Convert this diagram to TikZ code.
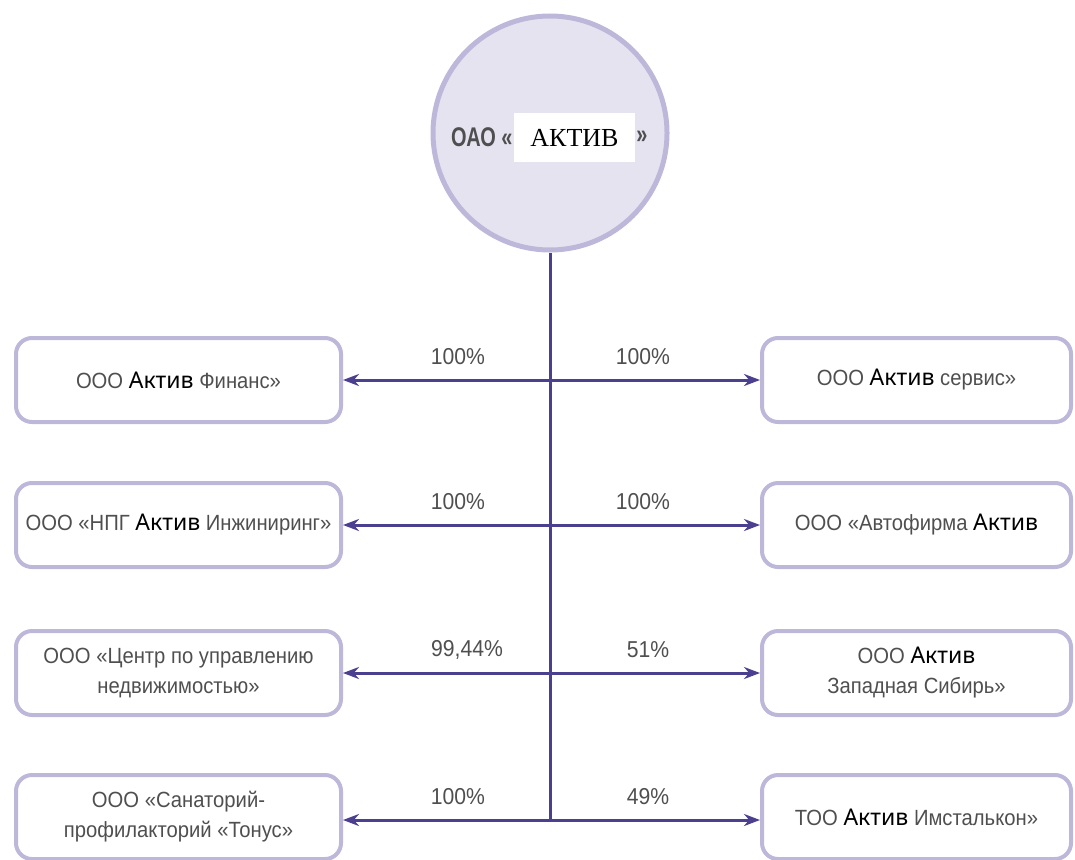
\documentclass[tikz,border=0pt]{standalone}
\usepackage{fontspec}
\usepackage{xcolor}
\usetikzlibrary{arrows.meta}
\setmainfont{Liberation Sans}[FakeStretch=0.92]
\newfontfamily\aktfont{Noto Sans}
\newfontfamily\serifcap{Liberation Serif}
\newfontfamily\hubfont{Liberation Sans}[FakeStretch=0.74]
\definecolor{frame}{HTML}{BDB7DA}
\definecolor{hubfill}{HTML}{E6E3F0}
\definecolor{linkcol}{HTML}{4B3F8F}
\definecolor{txt}{HTML}{4F4F4F}
\newcommand{\akt}{{\aktfont\color{black}\fontsize{23}{30}\selectfont Актив}}
\tikzset{
  firm/.style={draw=frame, line width=4pt, rounded corners=16pt, minimum height=84pt,
    inner sep=0pt, align=center, text=txt, font=\fontsize{22}{30}\selectfont},
  firmleft/.style={firm, minimum width=325pt},
  firmright/.style={firm, minimum width=309pt},
  share/.style={draw=none, text=txt, font=\fontsize{23}{26}\selectfont},
  link/.style={draw=linkcol, line width=3pt},
  linkarrow/.style={link, -{Stealth[length=16pt,width=12pt]}}
}
\begin{document}
\begin{tikzpicture}[x=1pt,y=-1pt]
\useasboundingbox (0,0) rectangle (1075,859);

\node[circle, draw=frame, fill=hubfill, line width=5pt, minimum size=234pt] (oao) at (550,133) {};
\node[draw=none, fill=white, inner sep=0pt, minimum width=121pt, minimum height=49pt,
  font=\serifcap\fontsize{26}{26}\selectfont] (aktiv) at (574.5,137.5) {АКТИВ};
\node[draw=none, anchor=east, inner sep=1pt, text=txt,
  font=\hubfont\bfseries\fontsize{27}{27}\selectfont] at (aktiv.west) {ОАО «};
\node[draw=none, anchor=west, inner sep=1pt, text=txt,
  font=\hubfont\bfseries\fontsize{27}{27}\selectfont] at (aktiv.east) {»};

\node[firmleft] (fin) at (178.5,380) {ООО \akt\ Финанс»};
\node[firmleft] (npg) at (178.5,525) {ООО «НПГ \akt\ Инжиниринг»};
\node[firmleft] (centr) at (178.5,673) {ООО «Центр по управлению\\недвижимостью»};
\node[firmleft] (tonus) at (178.5,817) {ООО «Санаторий-\\профилакторий «Тонус»};

\node[firmright] (serv) at (916.5,380) {ООО \akt\ сервис»};
\node[firmright] (avto) at (916.5,525) {ООО «Автофирма \akt};
\node[firmright] (sib) at (916.5,673) {ООО \akt\\Западная Сибирь»};
\node[firmright] (imst) at (916.5,817) {ТОО \akt\ Имсталькон»};

\coordinate (h1) at (550,380);
\coordinate (h2) at (550,525);
\coordinate (h3) at (550,673);
\coordinate (h4) at (550,820);

\draw[link] (oao.south) -- (h4);

\draw[linkarrow] (h1) -- (fin.east);
\draw[linkarrow] (h1) -- (serv.west);
\draw[linkarrow] (h2) -- (npg.east);
\draw[linkarrow] (h2) -- (avto.west);
\draw[linkarrow] (h3) -- (centr.east);
\draw[linkarrow] (h3) -- (sib.west);
\draw[linkarrow] (h4) -- (tonus.east |- h4);
\draw[linkarrow] (h4) -- (imst.west |- h4);

\node[share] at (458,357) {100\%};
\node[share] at (643,357) {100\%};
\node[share] at (458,502) {100\%};
\node[share] at (643,502) {100\%};
\node[share] at (467,650) {99,44\%};
\node[share] at (648,650) {51\%};
\node[share] at (458,797) {100\%};
\node[share] at (648,797) {49\%};
\end{tikzpicture}
\end{document}
